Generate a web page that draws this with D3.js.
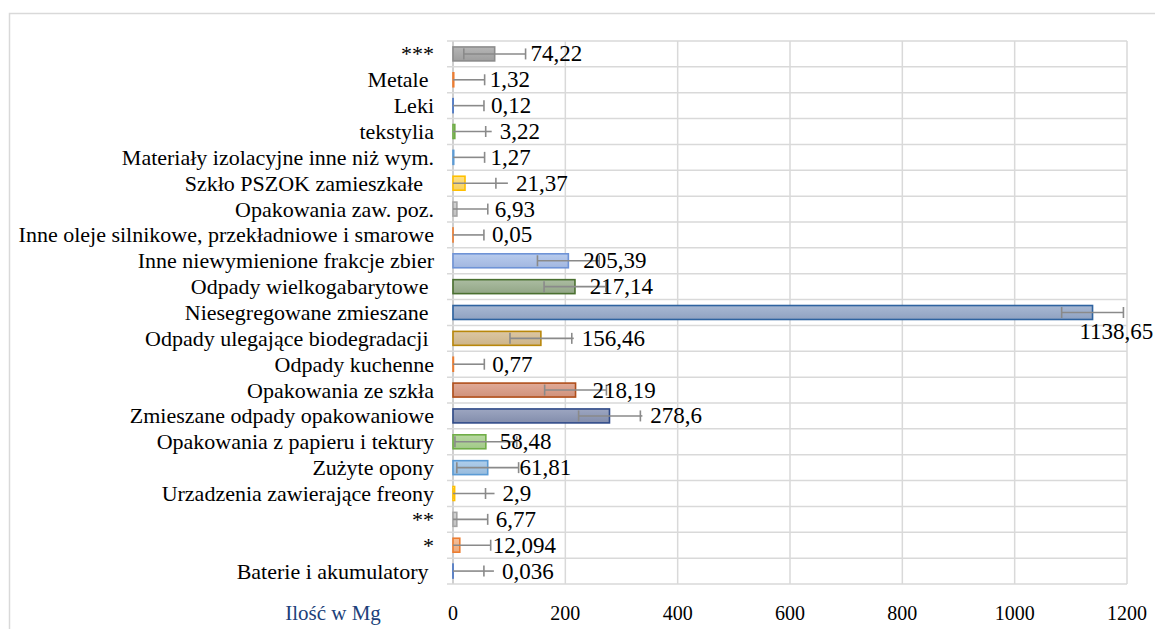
<!DOCTYPE html>
<html>
<head>
<meta charset="utf-8">
<script src="https://cdn.jsdelivr.net/npm/d3@7"></script>
<style>
  html, body { margin: 0; padding: 0; background: #fff; }
  svg { display: block; }
  text { font-family: "Liberation Serif", "Times New Roman", serif; white-space: pre; }
</style>
</head>
<body>
<svg id="chart" width="1155" height="629"></svg>
<script>
// ---- data ----
const categories = [
  "***",
  "Metale ",
  "Leki",
  "tekstylia",
  "Materiały izolacyjne inne niż wym.",
  "Szkło PSZOK zamieszkałe  ",
  "Opakowania zaw. poz.",
  "Inne oleje silnikowe, przekładniowe i smarowe",
  "Inne niewymienione frakcje zbier",
  "Odpady wielkogabarytowe ",
  "Niesegregowane zmieszane ",
  "Odpady ulegające biodegradacji ",
  "Odpady kuchenne",
  "Opakowania ze szkła",
  "Zmieszane odpady opakowaniowe",
  "Opakowania z papieru i tektury",
  "Zużyte opony",
  "Urzadzenia zawierające freony",
  "**",
  "*",
  "Baterie i akumulatory "
];
const values = [74.22, 1.32, 0.12, 3.22, 1.27, 21.37, 6.93, 0.05, 205.39, 217.14,
  1138.65, 156.46, 0.77, 218.19, 278.6, 58.48, 61.81, 2.9, 6.77, 12.094, 0.036];
const valueLabels = ["74,22", "1,32", "0,12", "3,22", "1,27", "21,37", "6,93", "0,05",
  "205,39", "217,14", "1138,65", "156,46", "0,77", "218,19", "278,6", "58,48", "61,81",
  "2,9", "6,77", "12,094", "0,036"];
const xTicks = [0, 200, 400, 600, 800, 1000, 1200];
const errorAmount = 55;          // Excel-style standard error, same for every bar
const axisTitle = "Ilość w Mg";

// ---- styles / layout (not data) ----
const barFill = ["#a5a5a5", "#f4b183", "#8faadc", "#a9d18e", "#9dc3e6", "#ffd966", "#c9c9c9",
  "#f4b183", "#a9bfe9", "#98ad8c", "#95a9c9", "#d4bb8f", "#f4b183", "#d99780", "#8793b3",
  "#a9d18e", "#9dc3e6", "#ffd966", "#c9c9c9", "#f4b183", "#8faadc"];
const barStroke = ["#8c8c8c", "#ed7d31", "#4472c4", "#70ad47", "#5b9bd5", "#ffc000", "#a5a5a5",
  "#ed7d31", "#6f93d6", "#4a7030", "#2e63a0", "#b8870b", "#ed7d31", "#b04e1a", "#2f4a88",
  "#70ad47", "#5b9bd5", "#ffc000", "#a5a5a5", "#ed7d31", "#4472c4"];
// label offset (px) from the right error-bar cap, and vertical offset
const labelDx = [5, 5, 7, 14, 6, 20, 7, 8, -16, -16, -44, 10, 8, -14, 10, -17, 1, 17, 8, 2, 18];
const labelDy = [0, 0, 0, 0, 0, 0, 0, 0, 0, 0, 19, 0, 0, 0, 0, 0, 0, 0, 0, 0, 0];

const svg = d3.select("#chart");
const plot = { left: 453, right: 1127, top: 41, bottom: 584 };
const serif = "'Liberation Serif', 'Times New Roman', serif";

// outer chart border
svg.append("rect")
  .attr("x", 9.5).attr("y", 13.5)
  .attr("width", 1200).attr("height", 700)
  .attr("fill", "#fff").attr("stroke", "#d9d9d9").attr("stroke-width", 1.5);

const x = d3.scaleLinear().domain([xTicks[0], xTicks[xTicks.length - 1]]).range([plot.left, plot.right]);
const y = d3.scaleBand().domain(categories.map((c, i) => i)).range([plot.top, plot.bottom]).paddingInner(0.46).paddingOuter(0.23);
const step = y.step();

// gradients
const defs = svg.append("defs");
barFill.forEach((c, i) => {
  const g = defs.append("linearGradient").attr("id", "g" + i)
    .attr("x1", 0).attr("y1", 0).attr("x2", 0).attr("y2", 1);
  g.append("stop").attr("offset", "0%").attr("stop-color", d3.interpolateRgb(c, "#ffffff")(0.18));
  g.append("stop").attr("offset", "100%").attr("stop-color", d3.interpolateRgb(c, "#000000")(0.04));
});

// vertical gridlines
svg.append("g").selectAll("line").data(xTicks).join("line")
  .attr("x1", d => x(d)).attr("x2", d => x(d))
  .attr("y1", plot.top).attr("y2", plot.bottom)
  .attr("stroke", d => d === 0 ? "#bfbfbf" : "#d9d9d9").attr("stroke-width", 1.5);

// horizontal category separators
const bounds = d3.range(categories.length + 1).map(i => plot.top + i * step);
svg.append("g").selectAll("line").data(bounds).join("line")
  .attr("x1", plot.left - 6).attr("x2", plot.right)
  .attr("y1", d => d).attr("y2", d => d)
  .attr("stroke", "#d9d9d9").attr("stroke-width", 1.5);

// x tick labels
svg.append("g").selectAll("text").data(xTicks).join("text")
  .attr("x", d => x(d)).attr("y", 613)
  .attr("text-anchor", "middle").attr("dominant-baseline", "central")
  .attr("font-family", serif).attr("font-size", 20).attr("fill", "#000")
  .text(d => d);

// axis title
svg.append("text").attr("x", 333).attr("y", 613)
  .attr("text-anchor", "middle").attr("dominant-baseline", "central")
  .attr("font-family", serif).attr("font-size", 21).attr("fill", "#203f7a").text(axisTitle);

// category labels
svg.append("g").selectAll("text").data(categories).join("text")
  .attr("x", 434).attr("y", (d, i) => y(i) + y.bandwidth() / 2)
  .attr("text-anchor", "end").attr("dominant-baseline", "central")
  .attr("font-family", serif).attr("font-size", 22).attr("fill", "#000")
  .text(d => d);

// bars
svg.append("g").selectAll("rect").data(values).join("rect")
  .attr("x", x(0)).attr("y", (d, i) => y(i))
  .attr("width", d => x(d) - x(0)).attr("height", y.bandwidth())
  .attr("fill", (d, i) => `url(#g${i})`)
  .attr("stroke", (d, i) => barStroke[i]).attr("stroke-width", 1.6);

// error bars
const eb = svg.append("g").attr("stroke", "#8a8a8a").attr("stroke-width", 1.6).attr("fill", "none");
const capH = 5.5;
values.forEach((v, i) => {
  const cy = y(i) + y.bandwidth() / 2;
  const lo = Math.max(v - errorAmount, 0);
  const hi = v + errorAmount;
  eb.append("line").attr("x1", x(lo)).attr("x2", x(hi)).attr("y1", cy).attr("y2", cy);
  if (v - errorAmount >= 0) {
    eb.append("line").attr("x1", x(lo)).attr("x2", x(lo)).attr("y1", cy - capH).attr("y2", cy + capH);
  }
  eb.append("line").attr("x1", x(hi)).attr("x2", x(hi)).attr("y1", cy - capH).attr("y2", cy + capH);
  // leader line to moved label
  const lx = x(hi) + labelDx[i];
  if (labelDy[i] === 0 && lx - 8 > x(hi) + 1) {
    eb.append("line").attr("x1", x(hi)).attr("x2", lx - 8).attr("y1", cy).attr("y2", cy);
  }
});

// value labels
svg.append("g").selectAll("text").data(valueLabels).join("text")
  .attr("x", (d, i) => x(values[i] + errorAmount) + labelDx[i])
  .attr("y", (d, i) => y(i) + y.bandwidth() / 2 + labelDy[i])
  .attr("dominant-baseline", "central")
  .attr("font-family", serif).attr("font-size", 23).attr("fill", "#000")
  .text(d => d);
</script>
</body>
</html>
